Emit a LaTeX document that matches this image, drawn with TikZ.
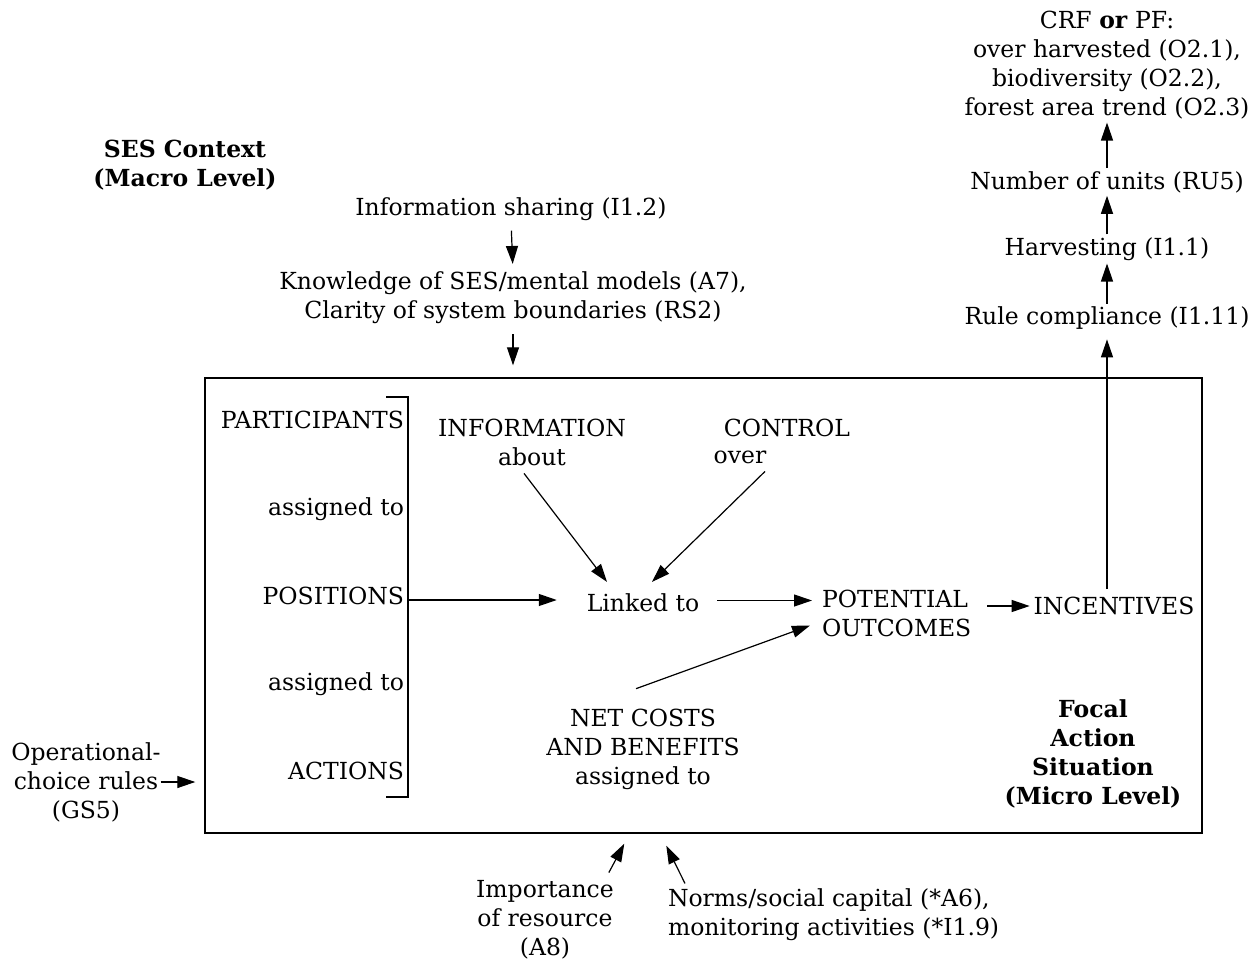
\documentclass[tikz,border=0pt]{standalone}
\usepackage{fontspec}
\setmainfont{DejaVu Serif}
\usetikzlibrary{arrows.meta,calc}
\newcommand{\txt}{\fontsize{23.5}{29}\selectfont}
\tikzset{
  lbl/.style={inner sep=0pt, outer sep=0pt, font=\txt, align=center},
  bold/.style={lbl, font=\txt\bfseries},
  arr/.style={line width=1.2pt, -{Triangle[length=18pt,width=12pt]}},
  frame/.style={draw, line width=1.4pt, inner sep=0pt}
}
\begin{document}
\begin{tikzpicture}[x=1pt, y=-1pt]
\useasboundingbox (0,0) rectangle (1259,964);

% action situation frame
\node[frame, minimum width=997pt, minimum height=455pt] (box) at (703.5,605.5) {};

% context above the frame
\node[bold] (ses) at (185,165) {SES Context\\(Macro Level)};
\node[lbl] (info) at (511,209) {Information sharing (I1.2)};
\node[lbl] (know) at (513,298) {Knowledge of SES/mental models (A7),\\Clarity of system boundaries (RS2)};

% participant column with bracket
\node[lbl, anchor=east] (part) at (404,420) {PARTICIPANTS};
\node[lbl, anchor=east] (ass1) at (404,509) {assigned to};
\node[lbl, anchor=east] (pos) at (404,596) {POSITIONS};
\node[lbl, anchor=east] (ass2) at (404,684) {assigned to};
\node[lbl, anchor=east] (act) at (404,771) {ACTIONS};
\coordinate (brtop) at (408,397);
\coordinate (brbot) at (408,797);
\coordinate (brmid) at (408,600);
\draw[line width=1.2pt] ($(brtop)+(-22,0)$) -- (brtop) -- (brbot) -- ($(brbot)+(-22,0)$);

% inner nodes
\node[lbl] (linked) at (643,603) {Linked to};
\node[lbl] (infoab) at (532,442) {INFORMATION\\about};
\node[lbl] (ctrl) at (787,428) {CONTROL};
\node[lbl] (over) at (740,457) {over};
\node[lbl, align=left, anchor=west] (pot) at (822,613.5) {POTENTIAL\\OUTCOMES};
\node[lbl] (net) at (643,749) {NET COSTS\\AND BENEFITS\\assigned to};
\node[lbl] (inc) at (1114,606) {INCENTIVES};
\node[bold] (focal) at (1093,754) {Focal\\Action\\Situation\\(Micro Level)};

% outcome chain
\node[lbl] (rule) at (1107,318) {Rule compliance (I1.11)};
\node[lbl] (harv) at (1107,249) {Harvesting (I1.1)};
\node[lbl] (num) at (1107,182) {Number of units (RU5)};
\node[lbl] (crf) at (1107,65.5) {CRF \textbf{or} PF:\\over harvested (O2.1),\\biodiversity (O2.2),\\forest area trend (O2.3)};

% outside influences
\node[lbl] (oper) at (86,782) {Operational-\\choice rules\\(GS5)};
\node[lbl] (imp) at (545,920) {Importance\\of resource\\(A8)};
\node[lbl, align=left, anchor=west] (norms) at (668,914.5) {Norms/social capital (*A6),\\monitoring activities (*I1.9)};

% connectors
\draw[arr, shorten <=10pt, shorten >=8pt] (info.south) -- (know.north);
\draw[arr, shorten <=10pt, shorten >=12pt] (know.south) -- (know.south |- box.north);
\draw[arr, shorten >=30pt] (brmid) -- (linked.west |- brmid);
\draw[arr] ($(infoab.south)+(-8,8)$) -- ($(linked.north)+(-36,-12)$);
\draw[arr] ($(over.south)+(25,8)$) -- ($(linked.north)+(9,-12)$);
\draw[arr] ($(linked.east)+(18,-2.5)$) -- ($(pot.west)+(-10,-13)$);
\draw[arr] ($(net.north)+(-7,-20)$) -- ($(pot.west)+(-12,12)$);
\draw[arr, shorten <=16pt, shorten >=4pt] (pot.east |- inc.west) -- (inc.west);
\draw[arr, shorten <=8pt, shorten >=10pt] (inc.north -| rule.south) -- (rule.south);
\draw[arr, shorten <=3pt, shorten >=3pt] (rule.north) -- (harv.south);
\draw[arr, shorten <=3pt, shorten >=3pt] (harv.north) -- (num.south);
\draw[arr, shorten <=3pt, shorten >=3pt] (num.north) -- (crf.south);
\draw[arr, shorten <=0pt, shorten >=9pt] (oper.east) -- (box.west |- oper.east);
\draw[arr] ($(imp.north east)+(-5,-8)$) -- ($(box.south west)+(420,10)$);
\draw[arr] ($(norms.north west)+(17,-5)$) -- ($(box.south west)+(462,12)$);
\end{tikzpicture}
\end{document}
